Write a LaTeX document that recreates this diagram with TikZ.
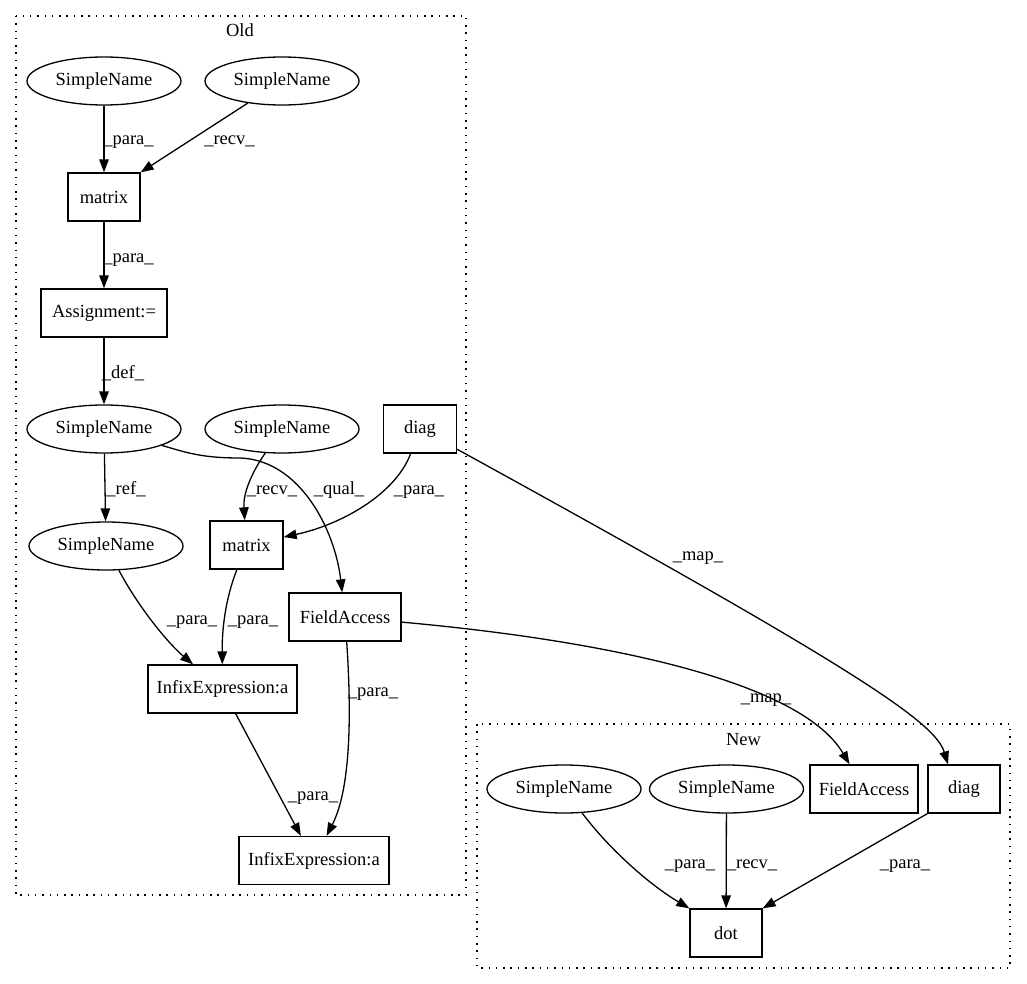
\documentclass[tikz,border=0pt]{standalone}
\usepackage{fontspec}
\setmainfont{Liberation Serif}
\usetikzlibrary{shapes.geometric,arrows.meta,calc}
\begin{document}
\begin{tikzpicture}[x=1pt,y=-1pt,
  every node/.style={font=\fontsize{18.5}{22}\selectfont},
  ell/.style={draw, ellipse, minimum width=154pt, minimum height=48pt, inner sep=0pt, line width=1.3pt},
  box/.style={draw, rectangle, minimum height=48pt, inner sep=0pt, line width=1.3pt},
  e/.style={line width=1.3pt, -{Triangle[length=13pt,width=9.5pt]}},
  lbl/.style={anchor=base, inner sep=0pt},
  clus/.style={line width=1.3pt, dash pattern=on 1.5pt off 5.8pt}
]
\useasboundingbox (0,0) rectangle (1027,984);
% clusters
\draw[clus] (16,16) rectangle (466,895);
\draw[clus] (477,724) rectangle (1010,968);
\node[lbl] (oldlbl) at (240,37) {Old};
\node[lbl] (newlbl) at (743.5,745) {New};
% Old nodes
\node[ell] (sa) at (104,81) {SimpleName};
\node[ell] (sb) at (282,81) {SimpleName};
\node[box, minimum width=72pt] (m1) at (104,197) {matrix};
\node[box, minimum width=126pt] (asg) at (104,313) {Assignment:=};
\node[ell] (sd) at (104,429) {SimpleName};
\node[ell] (sc) at (282,429) {SimpleName};
\node[box, minimum width=73pt] (dg) at (420,429) {diag};
\node[ell] (sr) at (106,546) {SimpleName};
\node[box, minimum width=73pt] (m2) at (246.5,545) {matrix};
\node[box, minimum width=112pt] (fa) at (345,617) {FieldAccess};
\node[box, minimum width=149pt] (i1) at (222.5,689) {InfixExpression:a};
\node[box, minimum width=150pt] (i2) at (314,860.5) {InfixExpression:a};
% New nodes
\node[ell] (na) at (564,789) {SimpleName};
\node[ell] (nb) at (726.5,789) {SimpleName};
\node[box, minimum width=108pt] (nf) at (864,789) {FieldAccess};
\node[box, minimum width=72pt] (nd) at (964,789) {diag};
\node[box, minimum width=72pt] (dt) at (726,933) {dot};
% Old edges
\draw[e] (sa) -- (m1);
\node[lbl] (l1) at (128.5,145) {\_para\_};
\draw[e] (sb) -- (m1.north east);
\node[lbl] (l2) at (229.5,145) {\_recv\_};
\draw[e] (m1) -- (asg);
\node[lbl] (l3) at (128.5,262) {\_para\_};
\draw[e] (asg) -- (sd);
\node[lbl] (l4) at (123,378) {\_def\_};
\draw[e] (sd) -- (sr);
\node[lbl] (l5) at (126,494) {\_ref\_};
\draw[e] (sc) .. controls (250,475) and (243,495) .. (m2);
\node[lbl] (l6) at (272,494) {\_recv\_};
\draw[e] (sd) .. controls (185,452) and (200,458) .. (240,458)
          .. controls (300,460) and (335,530) .. (fa);
\node[lbl] (l7) at (339,494) {\_qual\_};
\draw[e] (dg) .. controls (395,495) and (340,525) .. (m2);
\node[lbl] (l8) at (419,494) {\_para\_};
\draw[e] (sr) .. controls (140,610) and (170,645) .. (i1);
\node[lbl] (l9) at (192,624) {\_para\_};
\draw[e] (m2) .. controls (225,600) and (222,630) .. (i1);
\node[lbl] (l10) at (253,624) {\_para\_};
\draw[e] (fa) .. controls (352,720) and (350,790) .. (i2);
\node[lbl] (l11) at (373,696) {\_para\_};
\draw[e] (i1) -- (i2);
\node[lbl] (l12) at (313,800) {\_para\_};
% map edges
\draw[e] (dg) .. controls (857,669) and (935,722) .. ($(nd.north)+(-16,0)$);
\node[lbl] (l13) at (698,560) {\_map\_};
\draw[e] (fa) .. controls (600,640) and (800,680) .. (nf);
\node[lbl] (l14) at (766,702) {\_map\_};
% New edges
\draw[e] (na) .. controls (610,850) and (650,885) .. (dt.north west);
\node[lbl] (l15) at (690,868) {\_para\_};
\draw[e] (nb) -- (dt);
\node[lbl] (l16) at (752,868) {\_recv\_};
\draw[e] (nd.south west) -- (dt.north east);
\node[lbl] (l17) at (905,868) {\_para\_};
\end{tikzpicture}
\end{document}
